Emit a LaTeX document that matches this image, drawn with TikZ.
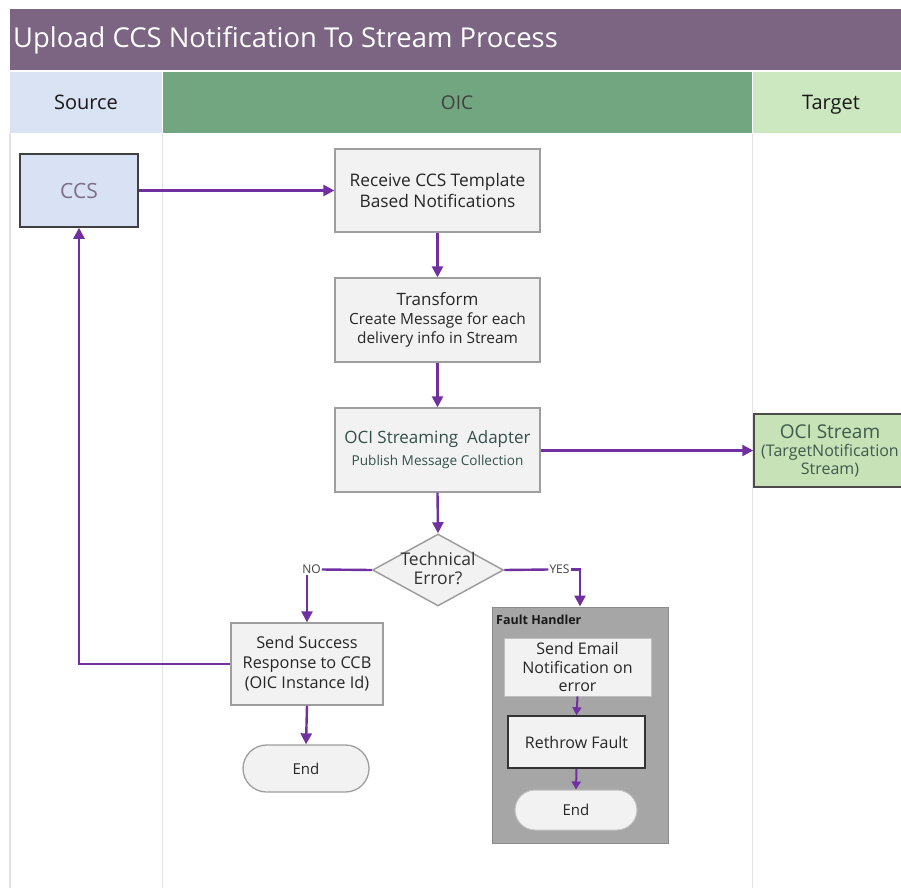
\documentclass[tikz,border=0pt]{standalone}
\usepackage{fontspec}
\setmainfont{Open Sans}
\usetikzlibrary{arrows.meta,shapes.geometric}
\definecolor{titlebg}{HTML}{7B6582}
\definecolor{srcbg}{HTML}{DAE3F3}
\definecolor{oicbg}{HTML}{72A680}
\definecolor{tgtbg}{HTML}{CCE8C0}
\definecolor{lanegrey}{HTML}{E4E4E4}
\definecolor{procfill}{HTML}{F2F2F2}
\definecolor{procdraw}{HTML}{9E9E9E}
\definecolor{ccsfill}{HTML}{D9E1F4}
\definecolor{streamfill}{HTML}{C6E2B6}
\definecolor{flowpurple}{HTML}{7030A0}
\definecolor{faultbg}{HTML}{A6A6A6}
\definecolor{tealtext}{HTML}{34504A}
\definecolor{streamtext}{HTML}{3E5A4C}
\definecolor{ccstext}{HTML}{7C6E8A}
\newcommand{\fs}[2]{\fontsize{#1}{#2}\selectfont}
\tikzset{
  proc/.style={draw=procdraw, fill=procfill, line width=1.3pt, align=center, inner sep=0pt, text=black!85},
  arr/.style={draw=flowpurple, line width=2.4pt, -{Triangle[length=11pt,width=11pt]}},
  smallarr/.style={draw=flowpurple, line width=2pt, -{Triangle[length=8pt,width=9pt]}},
  flowline/.style={draw=flowpurple, line width=2.4pt},
  lane/.style={draw=lanegrey, line width=1.2pt},
  hdr/.style={inner sep=0pt, anchor=base},
  lbl/.style={inner sep=1pt, font=\fs{12}{14}, text=black!75},
}
\begin{document}
\begin{tikzpicture}[x=1pt,y=-1pt]
\useasboundingbox (0,0) rectangle (901,888);
\clip (0,0) rectangle (901,888);
\fill[white] (0,0) rectangle (901,888);
% title and headers
\fill[titlebg] (10,9) rectangle (901,70);
\node[inner sep=0pt, anchor=west, text=white, font=\fs{27.4}{32}] (title) at (13,40) {Upload CCS Notification To Stream Process};
\fill[srcbg] (10,72) rectangle (162,133);
\fill[oicbg] (163,72) rectangle (752,133);
\fill[tgtbg] (753,72) rectangle (901,133);
\node[hdr, font=\fs{20}{24}, text=black!90] (hsrc) at (86,109.5) {Source};
\node[hdr, font=\fs{19}{24}, text=black!75] (hoic) at (457,109.5) {OIC};
\node[hdr, font=\fs{20}{24}, text=black!90] (htgt) at (831,109.5) {Target};
% lane lines
\draw[lane] (10,133) -- (10,888);
\draw[lane] (162.5,133) -- (162.5,888);
\draw[lane] (752.5,133) -- (752.5,888);
% nodes
\node[draw=black!75, fill=ccsfill, line width=1.5pt, minimum width=118, minimum height=73, inner sep=0pt, text=ccstext, font=\fs{21}{24}] (ccs) at (79,190.5) {CCS};
\node[proc, minimum width=205, minimum height=83, font=\fs{17.3}{21}] (recv) at (437.5,190.5) {Receive CCS Template\\Based Notifications};
\node[proc, minimum width=205, minimum height=84, font=\fs{15.4}{19}] (trans) at (437.5,320) {{\fs{17}{19}Transform}\\Create Message for each\\delivery info in Stream};
\node[proc, minimum width=205, minimum height=84, text=tealtext, font=\fs{17}{22}] (adapt) at (437.5,450) {OCI Streaming\ \ Adapter\\{\fs{13.6}{17}Publish Message Collection}};
\node[draw=black!70, fill=streamfill, line width=1.5pt, minimum width=152, minimum height=73, inner sep=0pt, align=center, text=streamtext, font=\fs{16}{18}] (stream) at (830,450.5) {{\fs{19}{20}OCI Stream}\\(TargetNotification\\Stream)};
\node[diamond, draw=procdraw, fill=procfill, line width=1.5pt, minimum width=131, minimum height=72, inner sep=0pt] (dec) at (438,570) {};
\node[align=center, inner sep=0pt, text=black!80, font=\fs{17.5}{19}] (dectext) at (438,568) {Technical\\Error?};
\node[lbl] (no) at (311.5,569.5) {NO};
\node[lbl] (yes) at (559.5,569.5) {YES};
\node[proc, minimum width=152, minimum height=82, font=\fs{16.3}{20}] (succ) at (307,664) {Send Success\\Response to CCB\\(OIC Instance Id)};
\node[proc, rounded corners=23.5pt, minimum width=126, minimum height=47, font=\fs{15}{18}] (end1) at (306,768.5) {End};
% fault handler
\node[draw=black!45, fill=faultbg, line width=1pt, minimum width=176, minimum height=236, inner sep=0pt] (fault) at (580,725) {};
\node[anchor=west, inner sep=0pt, font=\bfseries\fs{12.5}{14}, text=black!90] (faultlbl) at (496,620) {Fault Handler};
\node[proc, draw=black!25, line width=1pt, minimum width=147, minimum height=58, font=\fs{16}{18.7}] (email) at (577.5,667) {Send Email\\Notification on\\error};
\node[proc, draw=black!80, line width=1.5pt, minimum width=137, minimum height=52, font=\fs{16}{19}] (rethrow) at (576.5,742) {Rethrow Fault};
\node[proc, draw=black!25, line width=1pt, rounded corners=20pt, minimum width=122, minimum height=40, font=\fs{15}{18}] (end2) at (576,810) {End};
% connectors
\draw[arr] (ccs.east) -- (recv.west);
\draw[arr] (recv.south) -- (trans.north);
\draw[arr] (trans.south) -- (adapt.north);
\draw[arr] (adapt.east |- stream.west) -- (stream.west);
\draw[arr] (adapt.south) -- (dec.north);
\draw[flowline] (dec.west) -- (no.east);
\draw[arr] (no.south -| succ.north) -- (succ.north);
\draw[flowline] (dec.east) -- (yes.west);
\draw[arr] (yes.east) -| (fault.north);
\draw[arr] (succ.west) -| (ccs.south);
\draw[arr] (succ.south) -- (end1.north);
\draw[smallarr] (email.south) -- (rethrow.north);
\draw[smallarr] (rethrow.south) -- (end2.north);
\end{tikzpicture}
\end{document}
